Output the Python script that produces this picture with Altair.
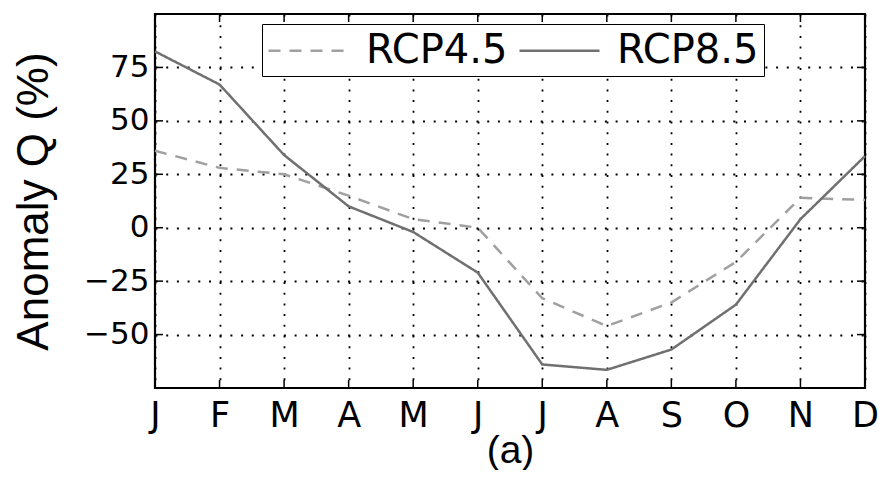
import altair as alt
import pandas as pd

months = ["J", "F", "M", "A", "M", "J", "J", "A", "S", "O", "N", "D"]
rcp45 = [36, 28, 25, 15, 4, 0, -33, -46, -35, -16, 14, 13]
rcp85 = [82.5, 67, 34, 10, -2, -21, -64, -66.5, -57, -36, 4, 33.5]
series = ["RCP4.5", "RCP8.5"]
y_ticks = [-50, -25, 0, 25, 50, 75]

rows = []
for name, vals in zip(series, [rcp45, rcp85]):
    for i, v in enumerate(vals):
        rows.append({"m": i, "v": v, "s": name})
df = pd.DataFrame(rows)
ytick_df = pd.DataFrame({"v": y_ticks})
xtick_df = pd.DataFrame({"m": list(range(len(months)))})

W, H = 710, 374
label_expr = "[" + ",".join("'%s'" % m for m in months) + "][datum.value]"

xscale = alt.Scale(domain=[0, 11], nice=False, zero=False)
yscale = alt.Scale(domain=[-75, 100], nice=False, zero=False)

x_axis = alt.Axis(
    values=list(range(len(months))), labelExpr=label_expr,
    title="(a)", titleFont="Liberation Sans", titleFontSize=39, titleFontWeight="normal",
    titleColor="black", titleY=74, titleBaseline="alphabetic",
    labelFont="DejaVu Sans", labelFontSize=35, labelColor="black", labelPadding=10,
    tickSize=0, domain=False, grid=True, gridDash=[2, 8.7], gridColor="black",
    gridWidth=1.8, gridOpacity=1, labelFlush=False)
y_axis = alt.Axis(
    values=y_ticks, title="Anomaly Q (%)", titleFont="Liberation Sans",
    titleFontSize=44, titleFontWeight="normal", titleColor="black",
    titleX=-108, titleY=187, titleAngle=-90, titleAlign="center",
    titleBaseline="alphabetic",
    labelFont="DejaVu Sans", labelFontSize=31, labelColor="black", labelPadding=6,
    tickSize=0, domain=False, grid=True, gridDash=[2, 8.7], gridColor="black",
    gridWidth=1.8, gridOpacity=1)

legend = alt.Legend(
    title=None, orient="none", legendX=107, legendY=10, direction="horizontal",
    labelFont="DejaVu Sans", labelFontSize=40, labelColor="black",
    symbolType="M-1,0H3", symbolSize=1600, symbolStrokeWidth=2.5,
    labelOffset=56, columnPadding=6, padding=5,
    strokeColor="black", fillColor="white",
)

lines = alt.Chart(df).mark_line(strokeWidth=2.5).encode(
    x=alt.X("m:Q", scale=xscale, axis=x_axis),
    y=alt.Y("v:Q", scale=yscale, axis=y_axis),
    color=alt.Color("s:N", scale=alt.Scale(domain=series, range=["#a0a0a0", "#707070"]), legend=legend),
    strokeDash=alt.StrokeDash("s:N", scale=alt.Scale(domain=series, range=[[12, 9], [1, 0]]), legend=legend),
)

tick_len = 8
left_ticks = alt.Chart(ytick_df).mark_rule(color="black", strokeWidth=1.5).encode(
    y=alt.Y("v:Q", scale=yscale, axis=y_axis), x=alt.value(0), x2=alt.value(tick_len))
right_ticks = alt.Chart(ytick_df).mark_rule(color="black", strokeWidth=1.5).encode(
    y=alt.Y("v:Q", scale=yscale, axis=y_axis), x=alt.value(W), x2=alt.value(W - tick_len))
bottom_ticks = alt.Chart(xtick_df).mark_rule(color="black", strokeWidth=1.5).encode(
    x=alt.X("m:Q", scale=xscale, axis=x_axis), y=alt.value(H), y2=alt.value(H - tick_len))
top_ticks = alt.Chart(xtick_df).mark_rule(color="black", strokeWidth=1.5).encode(
    x=alt.X("m:Q", scale=xscale, axis=x_axis), y=alt.value(0), y2=alt.value(tick_len))

chart = alt.layer(lines, left_ticks, right_ticks, bottom_ticks, top_ticks).properties(
    width=W, height=H,
    autosize=alt.AutoSizeParams(type="none"),
    padding={"left": 147, "top": 6, "right": 15, "bottom": 82},
    background="white",
).configure_view(stroke="black", strokeWidth=2.2)

chart.save("out.html", embed_options={"renderer": "svg", "actions": False})
